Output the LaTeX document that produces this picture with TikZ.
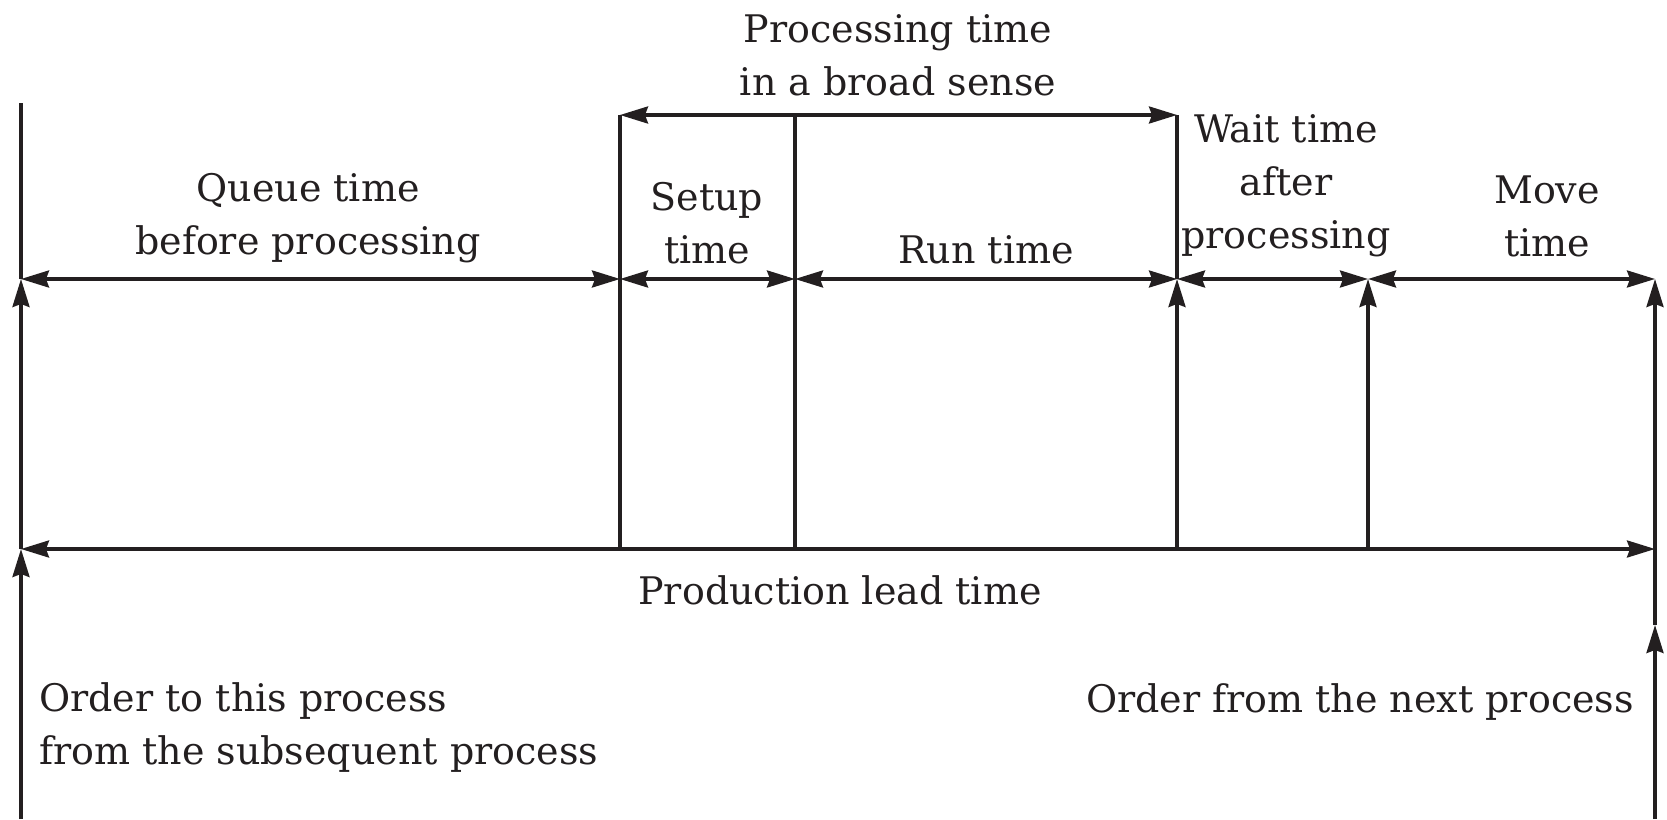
\documentclass[tikz,border=0pt]{standalone}
\usepackage{fontspec}
\setmainfont{DejaVu Serif}
\usetikzlibrary{arrows.meta}
\definecolor{ink}{HTML}{231F20}
\begin{document}
\begin{tikzpicture}[x=1pt,y=-1pt,
  tip/.style={-{Stealth[length=28pt,width=17pt,inset=3pt]}},
  twotip/.style={{Stealth[length=28pt,width=17pt,inset=3pt]}-{Stealth[length=28pt,width=17pt,inset=3pt]}},
  rule/.style={draw=ink,line width=3.2pt},
  lbl/.style={text=ink,align=center,inner sep=0pt,font=\fontsize{38}{53}\selectfont}]
\useasboundingbox (0,0) rectangle (1667,819);

% key points along the time axis
\coordinate (Ltop) at (21,103);
\coordinate (Lmid) at (21,279);
\coordinate (Llow) at (21,549);
\coordinate (Lbot) at (21,819);
\coordinate (Atop) at (620,115);
\coordinate (Amid) at (620,279);
\coordinate (Alow) at (620,549);
\coordinate (Btop) at (795,115);
\coordinate (Bmid) at (795,279);
\coordinate (Blow) at (795,549);
\coordinate (Ctop) at (1177,115);
\coordinate (Cmid) at (1177,279);
\coordinate (Clow) at (1177,549);
\coordinate (Dmid) at (1368,279);
\coordinate (Dlow) at (1368,549);
\coordinate (Rmid) at (1655,279);
\coordinate (Rlow) at (1655,549);
\coordinate (Rord) at (1655,625);
\coordinate (Rbot) at (1655,819);

% vertical markers
\draw[rule,tip] (Lbot) -- (Llow);
\draw[rule,tip] (Llow) -- (Lmid);
\draw[rule] (Lmid) -- (Ltop);
\draw[rule] (Atop) -- (Alow);
\draw[rule] (Btop) -- (Blow);
\draw[rule] (Cmid) -- (Ctop);
\draw[rule,tip] (Clow) -- (Cmid);
\draw[rule,tip] (Dlow) -- (Dmid);
\draw[rule,tip] (Rbot) -- (Rord);
\draw[rule,tip] (Rord) -- (Rmid);

% spans
\draw[rule,twotip] (Atop) -- (Ctop);
\draw[rule,twotip] (Lmid) -- (Amid);
\draw[rule,twotip] (Amid) -- (Bmid);
\draw[rule,twotip] (Bmid) -- (Cmid);
\draw[rule,twotip] (Cmid) -- (Dmid);
\draw[rule,twotip] (Dmid) -- (Rmid);
\draw[rule,twotip] (Llow) -- (Rlow);

% labels
\node[lbl] (proc) at (898,55) {Processing time\\in a broad sense};
\node[lbl] (queue) at (308,218) {Queue time\\before processing};
\node[lbl] (setup) at (707,223) {Setup\\time};
\node[lbl] (run) at (986,250) {Run time};
\node[lbl] (wait) at (1286,186) {Wait time\\after\\processing};
\node[lbl] (move) at (1547,216) {Move\\time};
\node[lbl] (lead) at (840,590) {Production lead time};
\node[lbl,anchor=west,align=left] (ordin) at (39,728) {Order to this process\\from the subsequent process};
\node[lbl,anchor=east] (ordout) at (1634,702) {Order from the next process};
\end{tikzpicture}
\end{document}
